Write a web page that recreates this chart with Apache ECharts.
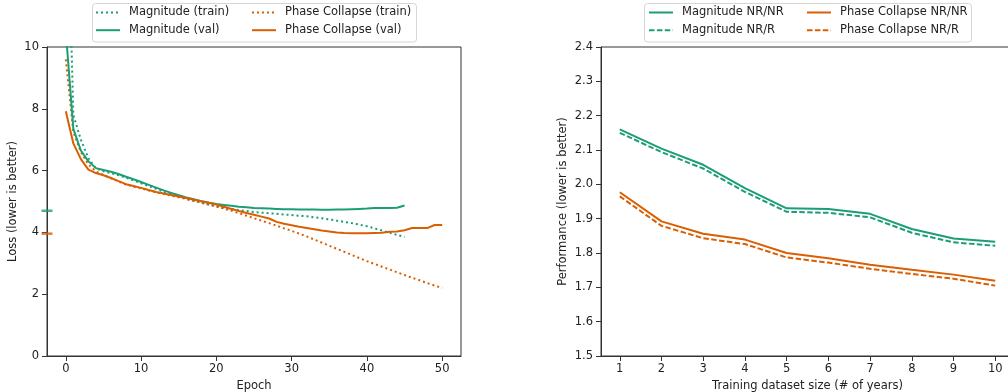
<!DOCTYPE html>
<html>
<head>
<meta charset="utf-8">
<script src="https://cdn.jsdelivr.net/npm/echarts@6/dist/echarts.min.js"></script>
<style>html,body{margin:0;padding:0;background:#fff;overflow:hidden}#c{width:1008px;height:392px}</style>
</head>
<body>
<div id="c"></div>
<script>
// ---- data (left panel) ----
const epochsMag = [0,1,2,3,4,5,6,7,8,9,10,11,12,13,14,15,16,17,18,19,20,21,22,23,24,25,26,27,28,29,30,31,32,33,34,35,36,37,38,39,40,41,42,43,44,45];
const epochsPC = [0,1,2,3,4,5,6,7,8,9,10,11,12,13,14,15,16,17,18,19,20,21,22,23,24,25,26,27,28,29,30,31,32,33,34,35,36,37,38,39,40,41,42,43,44,45,46,47,48,49,50];
const magTrain = [17.0,7.8,7.0,6.4,6.07,5.98,5.92,5.85,5.77,5.68,5.59,5.5,5.41,5.32,5.24,5.16,5.09,5.02,4.96,4.9,4.85,4.8,4.76,4.72,4.69,4.66,4.64,4.62,4.6,4.58,4.56,4.54,4.52,4.49,4.46,4.42,4.38,4.34,4.3,4.25,4.2,4.13,4.06,3.99,3.92,3.85];
const magVal = [10.5,7.35,6.65,6.3,6.08,6.02,5.96,5.89,5.8,5.72,5.63,5.54,5.45,5.36,5.28,5.2,5.13,5.07,5.01,4.96,4.92,4.89,4.86,4.83,4.81,4.79,4.78,4.77,4.76,4.75,4.75,4.74,4.74,4.74,4.73,4.73,4.74,4.74,4.75,4.76,4.77,4.79,4.79,4.79,4.8,4.87];
const pcTrain = [9.6,7.25,6.6,6.2,5.97,5.86,5.75,5.65,5.55,5.48,5.42,5.36,5.3,5.24,5.19,5.14,5.08,5.02,4.96,4.9,4.84,4.77,4.7,4.62,4.54,4.46,4.38,4.3,4.22,4.13,4.05,3.96,3.87,3.77,3.67,3.57,3.47,3.37,3.27,3.17,3.07,2.98,2.89,2.8,2.71,2.62,2.53,2.45,2.36,2.28,2.2];
const pcVal = [7.92,6.88,6.37,6.03,5.92,5.85,5.76,5.66,5.56,5.5,5.44,5.37,5.31,5.26,5.21,5.16,5.11,5.06,5.01,4.96,4.9,4.83,4.76,4.69,4.63,4.57,4.51,4.45,4.34,4.28,4.23,4.18,4.14,4.1,4.06,4.03,4.0,3.98,3.97,3.97,3.97,3.98,3.99,4.02,4.03,4.07,4.14,4.14,4.14,4.24,4.24];
const baselineMag = 4.70;
const baselinePC = 3.96;
const lossTicks = [0,10,20,30,40,50];

// ---- data (right panel) ----
const years = [1,2,3,4,5,6,7,8,9,10];
const magNRNR = [2.160,2.104,2.057,1.989,1.930,1.928,1.914,1.870,1.842,1.833];
const magNRR  = [2.150,2.094,2.046,1.978,1.920,1.917,1.904,1.859,1.831,1.821];
const pcNRNR  = [1.977,1.892,1.856,1.839,1.800,1.785,1.766,1.751,1.737,1.719];
const pcNRR   = [1.965,1.879,1.843,1.826,1.787,1.772,1.754,1.739,1.725,1.705];

const GREEN = '#1b9e77', ORANGE = '#d95f02';
const FONT = 'DejaVu Sans';
const FS = 11.5;
const TXT = '#222';
const zip = (xs, ys) => xs.map((x, i) => [x, ys[i]]);

function line(name, xs, ys, color, type, xi, yi) {
  return {
    name, type: 'line', xAxisIndex: xi, yAxisIndex: yi,
    data: zip(xs, ys), symbol: 'none', smooth: false,
    lineStyle: { color, width: 2, type, cap: 'butt' },
    itemStyle: { color }, emphasis: { disabled: true }, animation: false
  };
}

const axisCommon = {
  axisLine: { show: true, onZero: false, lineStyle: { color: '#333', width: 1 } },
  axisTick: { show: true, inside: false, length: 5, lineStyle: { color: '#333' } },
  splitLine: { show: false },
  axisLabel: { color: TXT, fontFamily: FONT, fontSize: FS },
  nameTextStyle: { color: TXT, fontFamily: FONT, fontSize: FS },
  nameLocation: 'middle'
};

function legend(names, left, top) {
  return {
    show: true, orient: 'vertical', left, top, data: names, padding: 0,
    itemWidth: 24, itemHeight: 14, itemGap: 5.7,
    itemStyle: { opacity: 0 },
    textStyle: { color: TXT, fontFamily: FONT, fontSize: FS, padding: [0, 0, 0, 4] },
    selectedMode: false
  };
}

const DOT = [2, 3];
const DASH = [5.5, 2.4];

const option = {
  backgroundColor: '#fff',
  animation: false,
  graphic: [
    { type: 'rect', shape: { x: 92.5, y: 3.5, width: 324, height: 38.5, r: 3 }, style: { fill: '#fff', stroke: '#d6d6d6', lineWidth: 1 }, z: 0 },
    { type: 'rect', shape: { x: 644.5, y: 3.5, width: 327, height: 38.5, r: 3 }, style: { fill: '#fff', stroke: '#d6d6d6', lineWidth: 1 }, z: 0 }
  ],
  legend: [
    legend(['Magnitude (train)', 'Magnitude (val)'], 95, 6.5),
    legend(['Phase Collapse (train)', 'Phase Collapse (val)'], 251, 6.5),
    legend(['Magnitude NR/NR', 'Magnitude NR/R'], 648, 6.5),
    legend(['Phase Collapse NR/NR', 'Phase Collapse NR/R'], 806, 6.5)
  ],
  grid: [
    { left: 47, top: 47, width: 414, height: 309, show: true, borderColor: '#333', borderWidth: 1, backgroundColor: 'transparent', outerBoundsMode: 'none', containLabel: false },
    { left: 601, top: 47, width: 413, height: 309, show: true, borderColor: '#333', borderWidth: 1, backgroundColor: 'transparent', outerBoundsMode: 'none', containLabel: false }
  ],
  xAxis: [
    Object.assign({}, axisCommon, {
      type: 'value', gridIndex: 0, min: -2.5, max: 52.5, name: 'Epoch', nameGap: 22,
      axisLabel: Object.assign({}, axisCommon.axisLabel, { margin: 7, customValues: lossTicks }),
      axisTick: Object.assign({}, axisCommon.axisTick, { customValues: lossTicks })
    }),
    Object.assign({}, axisCommon, {
      type: 'value', gridIndex: 1, min: 0.55, max: 10.45, name: 'Training dataset size (# of years)', nameGap: 22,
      axisLabel: Object.assign({}, axisCommon.axisLabel, { margin: 7, customValues: years }),
      axisTick: Object.assign({}, axisCommon.axisTick, { customValues: years })
    })
  ],
  yAxis: [
    Object.assign({}, axisCommon, {
      type: 'value', gridIndex: 0, min: 0, max: 10, interval: 2, name: 'Loss (lower is better)', nameGap: 28,
      axisLabel: Object.assign({}, axisCommon.axisLabel, { margin: 8 })
    }),
    Object.assign({}, axisCommon, {
      type: 'value', gridIndex: 1, min: 1.5, max: 2.4, interval: 0.1, name: 'Performance (lower is better)', nameGap: 32,
      axisLabel: Object.assign({}, axisCommon.axisLabel, { margin: 8, formatter: v => v.toFixed(1) })
    })
  ],
  series: [
    line('Magnitude (train)', epochsMag, magTrain, GREEN, DOT, 0, 0),
    line('Phase Collapse (train)', epochsPC, pcTrain, ORANGE, DOT, 0, 0),
    line('Magnitude (val)', epochsMag, magVal, GREEN, 'solid', 0, 0),
    line('Phase Collapse (val)', epochsPC, pcVal, ORANGE, 'solid', 0, 0),
    {
      name: 'baseMag', type: 'scatter', xAxisIndex: 0, yAxisIndex: 0, clip: false,
      data: [[-2.5, baselineMag]], symbol: 'rect', symbolSize: [11, 2.5],
      itemStyle: { color: GREEN }, z: 5, silent: true
    },
    {
      name: 'basePC', type: 'scatter', xAxisIndex: 0, yAxisIndex: 0, clip: false,
      data: [[-2.5, baselinePC]], symbol: 'rect', symbolSize: [11, 2.5],
      itemStyle: { color: ORANGE }, z: 5, silent: true
    },
    line('Magnitude NR/NR', years, magNRNR, GREEN, 'solid', 1, 1),
    line('Magnitude NR/R', years, magNRR, GREEN, DASH, 1, 1),
    line('Phase Collapse NR/NR', years, pcNRNR, ORANGE, 'solid', 1, 1),
    line('Phase Collapse NR/R', years, pcNRR, ORANGE, DASH, 1, 1)
  ]
};

const chart = echarts.init(document.getElementById('c'), null, { renderer: 'canvas' });
chart.setOption(option);
</script>
</body>
</html>
